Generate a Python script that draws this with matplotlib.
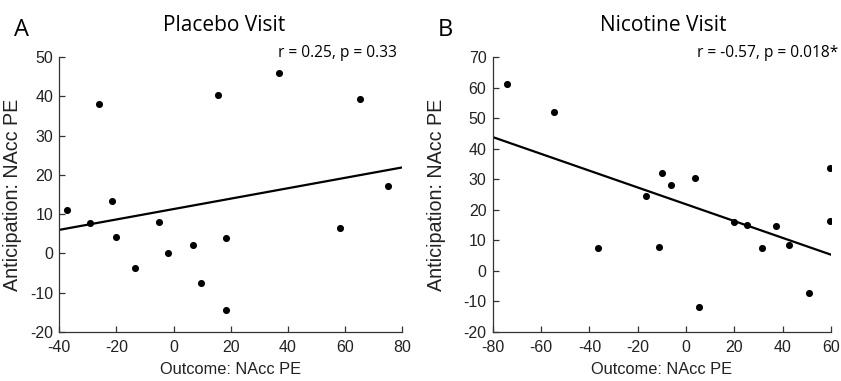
import numpy as np
import matplotlib
matplotlib.use('Agg')
from matplotlib import pyplot as plt

plt.rcParams['axes.unicode_minus'] = False

# Placebo visit
placebo_x = [-37.2, -29.3, -26.1, -21.4, -20.3, -13.4, -5.2, -1.9, 6.6, 9.5, 15.5, 18.3, 18.4, 37.0, 58.2, 65.0, 75.0]
placebo_y = [11.0, 7.7, 38.1, 13.3, 4.1, -3.6, 7.9, 0.2, 2.1, -7.4, 40.4, 4.0, -14.4, 45.8, 6.6, 39.2, 17.1]
placebo_fit_x = [-40, 80]
placebo_fit_y = [6.0, 21.9]

# Nicotine visit
nicotine_x = [-74.3, -54.6, -36.4, -16.4, -11.0, -9.9, -6.1, 3.6, 5.5, 19.7, 25.4, 31.3, 37.4, 42.5, 50.8, 59.6, 59.6]
nicotine_y = [61.1, 52.0, 7.5, 24.6, 7.9, 32.1, 28.0, 30.3, -11.9, 16.0, 14.9, 7.5, 14.6, 8.6, -7.2, 33.8, 16.4]
nicotine_fit_x = [-80, 60]
nicotine_fit_y = [43.8, 5.3]

placebo_xticks = [-40, -20, 0, 20, 40, 60, 80]
placebo_yticks = [-20, -10, 0, 10, 20, 30, 40, 50]
nicotine_xticks = [-80, -60, -40, -20, 0, 20, 40, 60]
nicotine_yticks = [-20, -10, 0, 10, 20, 30, 40, 50, 60, 70]

TICK_FONT = 'Liberation Sans'
TITLE_FONT = 'Open Sans'

fig = plt.figure(figsize=(8.41, 3.81), dpi=100)


def draw_panel(rect, xs, ys, fit_x, fit_y, xticks, yticks, title, stats, title_x, stats_x, ylab_x):
    ax = fig.add_axes(rect)
    ax.scatter(xs, ys, s=26, color='black', zorder=3, linewidths=0)
    ax.plot(fit_x, fit_y, color='black', lw=1.6)
    ax.set_xlim(xticks[0], xticks[-1])
    ax.set_ylim(yticks[0], yticks[-1])
    ax.set_xticks(xticks)
    ax.set_yticks(yticks)
    for side in ['top', 'right']:
        ax.spines[side].set_visible(False)
    for side in ['left', 'bottom']:
        ax.spines[side].set_color('#333333')
        ax.spines[side].set_linewidth(0.9)
    ax.tick_params(direction='in', length=4, width=0.9, color='#333333',
                   labelsize=11.5, labelcolor='#222222')
    ax.tick_params(axis='x', pad=6)
    ax.tick_params(axis='y', pad=4.5)
    for lab in ax.get_xticklabels() + ax.get_yticklabels():
        lab.set_fontfamily(TICK_FONT)
    ax.set_xlabel('Outcome: NAcc PE', fontsize=11.8, family=TICK_FONT, color='#222222')
    ax.set_ylabel('Anticipation: NAcc PE', fontsize=14.2, family=TICK_FONT, color='#222222')
    ax.xaxis.set_label_coords(0.5, -0.11)
    ax.yaxis.set_label_coords(ylab_x, 0.5)
    ax.text(title_x, 1.115, title, transform=ax.transAxes, ha='center', va='center',
            fontsize=15, family=TITLE_FONT)
    ax.text(stats_x, 1.015, stats, transform=ax.transAxes, ha='right', va='center',
            fontsize=11.2, family=TITLE_FONT)
    return ax


draw_panel([0.0705, 0.1286, 0.408, 0.7218], placebo_x, placebo_y, placebo_fit_x, placebo_fit_y,
           placebo_xticks, placebo_yticks, 'Placebo Visit', 'r = 0.25, p = 0.33', 0.48, 0.985, -0.108)
draw_panel([0.5859, 0.1286, 0.4022, 0.7218], nicotine_x, nicotine_y, nicotine_fit_x, nicotine_fit_y,
           nicotine_xticks, nicotine_yticks, 'Nicotine Visit', 'r = -0.57, p = 0.018*', 0.503, 1.02, -0.138)

fig.text(21 / 841, 1 - 30 / 381, 'A', ha='center', va='center', fontsize=17, family=TITLE_FONT)
fig.text(445 / 841, 1 - 30 / 381, 'B', ha='center', va='center', fontsize=17, family=TITLE_FONT)

fig.savefig('out.png', dpi=100)
